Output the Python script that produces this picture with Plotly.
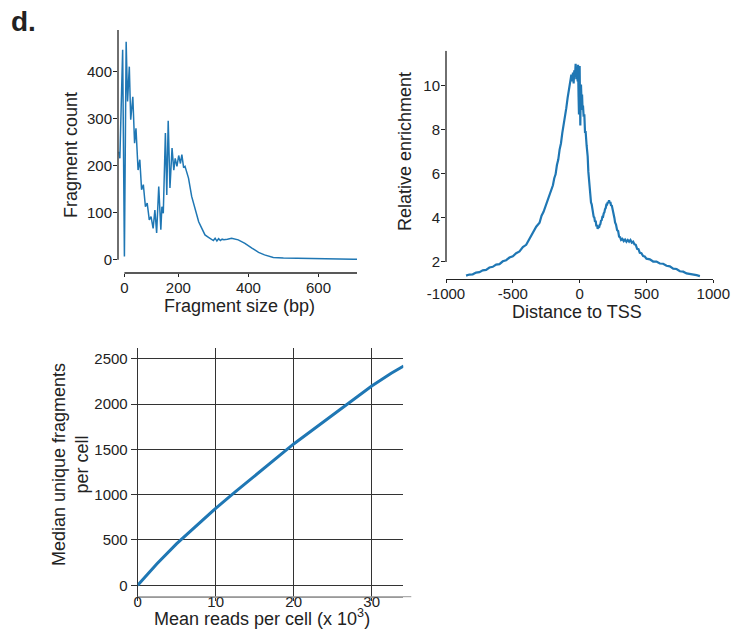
import plotly.graph_objects as go

# ---------------- data ----------------
# Panel 1: fragment size distribution
frag_size_bp = [31, 33, 41, 46, 51, 55, 60, 64, 70, 75, 79, 85, 90, 95, 100, 106, 111, 117, 122,
                128, 133, 138, 144, 150, 153, 157, 163, 167, 171, 176, 182, 187, 191, 196, 201,
                206, 210, 215, 219, 229, 238, 248, 258, 267, 276, 286, 295, 300, 305, 310, 315,
                320, 325, 330, 340, 352, 371, 390, 410, 429, 446, 471, 500, 550, 600, 650, 700, 710]
frag_count = [230, 216, 447, 7, 464, 337, 411, 298, 347, 248, 280, 191, 213, 149, 160, 113, 121, 85, 92,
              67, 106, 57, 156, 64, 113, 99, 270, 138, 296, 153, 238, 191, 216, 199, 222,
              205, 224, 196, 199, 174, 135, 106, 81, 67, 53, 48, 44, 41, 46, 40, 45,
              41, 44, 43, 44, 46, 42.5, 35, 25, 16, 10.6, 5, 4, 3, 2.5, 2, 1.5, 1.4]
frag_tick_vals = [46, 200, 400, 600]
frag_tick_text = ["0", "200", "400", "600"]
count_ticks = [0, 100, 200, 300, 400]

# Panel 2: TSS enrichment profile
tss_dist = [-850, -825, -800, -775, -750, -725, -700, -675, -650, -625, -600, -575, -550, -525,
            -500, -475, -450, -425, -400, -375, -350, -325, -300, -285, -270, -255, -240, -230,
            -220, -210, -200, -190, -180, -170, -160, -150, -140, -130, -120, -110, -100, -90,
            -80, -70, -62, -55, -50, -45, -40, -35, -30, -25, -20, -15, -12, -8, -5, -2, 0, 3,
            5, 8, 10, 14, 18, 22, 25, 30, 35, 40, 45, 52, 60, 65, 70, 75, 80, 85, 90, 95, 100,
            105, 110, 115, 120, 125, 130, 135, 140, 145, 150, 155, 160, 165, 170, 175, 180, 185,
            190, 195, 200, 205, 210, 215, 220, 225, 230, 235, 240, 245, 250, 255, 260, 265, 272,
            280, 288, 295, 303, 310, 320, 330, 340, 350, 360, 370, 380, 390, 400, 410, 420, 430,
            440, 450, 462, 475, 487, 500, 525, 550, 575, 600, 625, 650, 675, 700, 725, 750, 775,
            800, 825, 850, 875, 900]
tss_enrich = [1.38, 1.43, 1.44, 1.52, 1.54, 1.62, 1.64, 1.75, 1.78, 1.88, 1.9, 2.03, 2.08, 2.2,
              2.26, 2.4, 2.48, 2.68, 2.78, 3.05, 3.28, 3.6, 3.78, 4.1, 4.28, 4.55, 4.72, 4.95,
              5.08, 5.35, 5.48, 5.8, 5.98, 6.4, 6.65, 7.1, 7.38, 7.85, 8.18, 8.65, 8.98, 9.45,
              9.78, 10.25, 10.5, 10.2, 10.6, 10.1, 10.7, 10.4, 11.0, 10.3, 10.8, 10.2, 10.95, 9.5, 8.7, 10.4, 10.9, 9.2,
              8.2, 9.8, 10.05, 9.3, 9.6, 8.9, 9.1, 8.6, 8.7, 7.9, 7.9, 7.3, 6.8, 6.1, 5.65, 5.2, 5.05, 4.7, 4.62, 4.35, 4.32,
              4.05, 4.02, 3.82, 3.88, 3.62, 3.68, 3.5, 3.58, 3.55, 3.68, 3.72, 3.88, 3.9, 4.05, 4.05, 4.2, 4.25,
              4.4, 4.45, 4.6, 4.6, 4.72, 4.68, 4.8, 4.68, 4.72, 4.55, 4.58, 4.38, 4.3, 4.05, 4.0, 3.8, 3.7,
              3.45, 3.4, 3.15, 3.12, 3.0, 3.05, 2.95, 3.02, 2.92, 3.0, 2.92, 3.0, 2.88, 2.92, 2.8, 2.78, 2.6,
              2.58, 2.42, 2.4, 2.27, 2.25, 2.15, 2.12, 2.02, 2.02, 1.93, 1.92, 1.83, 1.8, 1.7, 1.68, 1.58, 1.56,
              1.48, 1.46, 1.41, 1.4, 1.36]
tss_ticks = [-1000, -500, 0, 500, 1000]
tss_tick_text = ["-1000", "-500", "0", "500", "1000"]
enrich_ticks = [2, 4, 6, 8, 10]

# Panel 3: saturation curve
mean_reads_k = [0, 2.5, 5, 7.5, 10, 12.5, 15, 17.5, 20, 22.5, 25, 27.5, 30, 32.5, 34.1]
median_frags = [0, 240, 460, 660, 850, 1030, 1210, 1390, 1560, 1720, 1880, 2040, 2200, 2340, 2420]
reads_ticks = [0, 10, 20, 30]
frags_ticks = [0, 500, 1000, 1500, 2000, 2500]

# ---------------- figure ----------------
W, H = 731, 629
BLUE = "#1f77b4"
TXT = "#222222"
FONT = "Liberation Sans, Arial, sans-serif"


def px_x(p):
    return p / W


def px_y(p):
    return 1 - p / H


fig = go.Figure()
fig.add_trace(go.Scatter(x=frag_size_bp, y=frag_count, mode="lines",
                         line=dict(color=BLUE, width=1.5), xaxis="x", yaxis="y",
                         showlegend=False, hoverinfo="skip"))
fig.add_trace(go.Scatter(x=tss_dist, y=tss_enrich, mode="lines",
                         line=dict(color=BLUE, width=2.2), xaxis="x2", yaxis="y2",
                         showlegend=False, hoverinfo="skip"))
fig.add_trace(go.Scatter(x=mean_reads_k, y=median_frags, mode="lines",
                         line=dict(color=BLUE, width=3), xaxis="x3", yaxis="y3",
                         showlegend=False, hoverinfo="skip"))

tickfont = dict(family=FONT, size=15, color=TXT)


def ax(**kw):
    base = dict(showgrid=False, zeroline=False, ticks="outside", ticklen=4, tickwidth=1,
                tickcolor=TXT, tickfont=tickfont, showline=False, automargin=False,
                ticklabeloverflow="allow")
    base.update(kw)
    return base


frag_range = [27.7, 710]
count_range = [-28, 489]
tss_range = [-1000, 1000]
enrich_range = [1.214, 11.59]

GRID = "#333333"

fig.update_layout(
    width=W, height=H, margin=dict(l=0, r=0, t=0, b=0, autoexpand=False),
    paper_bgcolor="white", plot_bgcolor="white",
    font=dict(family=FONT, color=TXT),
    xaxis=ax(domain=[px_x(118), px_x(357)], range=frag_range, anchor="y",
             tickvals=frag_tick_vals, ticktext=frag_tick_text, ticklen=3, ticklabelstandoff=-2),
    yaxis=ax(domain=[px_y(273), px_y(30)], range=count_range, anchor="x",
             tickvals=count_ticks, ticklabelstandoff=-2),
    xaxis2=ax(domain=[px_x(446), px_x(713.3)], range=tss_range, anchor="y2",
              tickvals=tss_ticks, ticktext=tss_tick_text, ticklen=3, showline=True,
              linecolor=TXT, linewidth=1.3, ticklabelstandoff=-2),
    yaxis2=ax(domain=[px_y(279.3), px_y(50.7)], range=enrich_range, anchor="x2",
              tickvals=enrich_ticks, ticklabelstandoff=-2),
    xaxis3=ax(domain=[px_x(137.7), px_x(403.3)], range=[0, 34.05], anchor="y3",
              tickvals=reads_ticks, showgrid=True, gridcolor=GRID, gridwidth=1,
              zeroline=True, zerolinecolor=GRID, zerolinewidth=1,
              ticklen=3, tickcolor=GRID,
              showline=True, linecolor="#999999", linewidth=1, ticklabelstandoff=-12),
    yaxis3=ax(domain=[px_y(596.7), px_y(348)], range=[-126, 2619], anchor="x3",
              tickvals=frags_ticks, showgrid=True, gridcolor=GRID, gridwidth=1,
              zeroline=True, zerolinecolor=GRID, zerolinewidth=1,
              ticklen=6, tickcolor=GRID),
)

# separated axis lines (offset axes as in the reference)
fig.add_shape(type="line", xref="x domain", yref="y", x0=0, x1=0, y0=0, y1=count_range[1],
              line=dict(color=TXT, width=1.3))
fig.add_shape(type="line", xref="x", yref="y domain", x0=frag_tick_vals[0], x1=frag_range[1], y0=0, y1=0,
              line=dict(color=TXT, width=1.3))
fig.add_shape(type="line", xref="x2 domain", yref="y2", x0=0, x1=0, y0=enrich_ticks[0], y1=enrich_range[1],
              line=dict(color=TXT, width=1.3))
# bottom panel x axis line runs slightly past the plot area
fig.add_shape(type="line", xref="x3 domain", yref="y3 domain", x0=0, x1=1.03, y0=0, y1=0,
              line=dict(color="#999999", width=1))

title_font = dict(family=FONT, size=18, color=TXT)


def label(text, x, y, angle=0, font=title_font):
    fig.add_annotation(text=text, x=px_x(x), y=px_y(y), xref="paper", yref="paper",
                       showarrow=False, textangle=angle, font=font,
                       xanchor="center", yanchor="middle")


label("<b>d.</b>", 23, 22, font=dict(family=FONT, size=28, color=TXT))
label("Fragment count", 71, 155, angle=-90)
label("Fragment size (bp)", 239, 306)
label("Relative enrichment", 405, 152, angle=-90)
label("Distance to TSS", 577, 312)
label("Median unique fragments<br>per cell", 70, 465, angle=-90)
label("Mean reads per cell (x 10<sup>3</sup>)", 262, 617)

fig.write_html("out.html", config={"displayModeBar": False},
               post_script="document.body.style.margin='0';document.body.style.overflow='hidden';")
